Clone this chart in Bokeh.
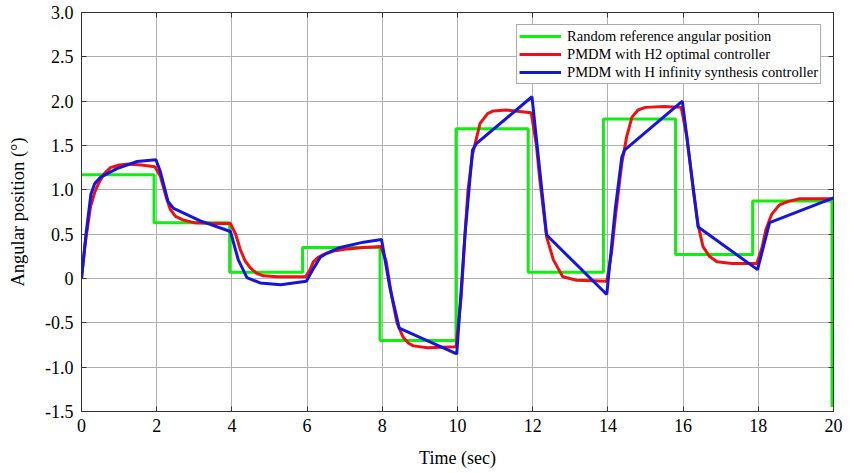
from bokeh.plotting import figure
from bokeh.models import Range1d, LinearAxis, FixedTicker, Legend, LegendItem
from bokeh.embed import file_html
from bokeh.resources import INLINE

# ---------------- data ----------------
ref_t = [0, 1.93, 3.94, 5.88, 7.94, 9.96, 11.88, 13.88, 15.80, 17.85, 19.93, 19.96]
ref_y = [1.17, 0.63, 0.07, 0.35, -0.70, 1.69, 0.07, 1.80, 0.27, 0.875, 0.875, -1.45]

h2_t = [0, 0.10, 0.24, 0.35, 0.45, 0.60, 0.77, 1.00, 1.20, 1.60, 1.95,
        2.10, 2.25, 2.36, 2.50, 2.70, 3.00, 3.50, 3.96,
        4.10, 4.22, 4.35, 4.49, 4.65, 4.84, 5.20, 5.96,
        6.08, 6.17, 6.30, 6.43, 6.70, 7.00, 7.50, 7.96,
        8.10, 8.25, 8.39, 8.55, 8.70, 8.83, 9.20, 9.96,
        10.10, 10.20, 10.28, 10.40, 10.60, 10.80, 10.95, 11.30, 11.96,
        12.10, 12.19, 12.37, 12.55, 12.80, 13.17, 13.97,
        14.10, 14.20, 14.37, 14.50, 14.64, 14.80, 15.00, 15.50, 15.95,
        16.10, 16.27, 16.40, 16.53, 16.70, 16.90, 17.30, 17.96,
        18.10, 18.20, 18.35, 18.56, 18.80, 19.10, 20.00]
h2_y = [0, 0.40, 0.81, 0.97, 1.07, 1.18, 1.25, 1.28, 1.29, 1.28, 1.26,
        1.15, 0.92, 0.78, 0.70, 0.66, 0.63, 0.62, 0.62,
        0.50, 0.33, 0.20, 0.12, 0.06, 0.03, 0.02, 0.02,
        0.10, 0.19, 0.24, 0.27, 0.31, 0.33, 0.35, 0.36,
        0.20, -0.20, -0.50, -0.66, -0.73, -0.76, -0.78, -0.77,
        -0.20, 0.50, 1.00, 1.40, 1.75, 1.86, 1.89, 1.90, 1.87,
        1.50, 1.11, 0.47, 0.21, 0.02, -0.02, -0.03,
        0.30, 0.70, 1.30, 1.60, 1.82, 1.90, 1.93, 1.94, 1.93,
        1.60, 1.00, 0.60, 0.36, 0.25, 0.19, 0.17, 0.17,
        0.35, 0.55, 0.72, 0.83, 0.87, 0.90, 0.90]

hinf_t = [0, 0.12, 0.25, 0.35, 0.50, 0.94, 1.48, 1.98,
          2.10, 2.30, 2.45, 3.16, 3.96,
          4.17, 4.40, 4.75, 5.30, 5.98,
          6.18, 6.35, 6.50, 6.88, 7.50, 7.98,
          8.20, 8.45, 9.98,
          10.20, 10.40, 10.50, 11.98,
          12.37, 13.97,
          14.20, 14.37, 14.45, 15.98,
          16.40, 17.98,
          18.30, 20.00]
hinf_y = [0, 0.50, 0.95, 1.07, 1.14, 1.24, 1.32, 1.34,
          1.20, 0.87, 0.79, 0.65, 0.53,
          0.21, 0.01, -0.05, -0.07, -0.03,
          0.12, 0.24, 0.28, 0.35, 0.41, 0.44,
          -0.10, -0.56, -0.85,
          0.50, 1.45, 1.52, 2.05,
          0.49, -0.18,
          0.80, 1.37, 1.45, 2.00,
          0.58, 0.10,
          0.63, 0.91]

x_ticks = [0, 2, 4, 6, 8, 10, 12, 14, 16, 18, 20]
y_ticks = [-1.5, -1.0, -0.5, 0, 0.5, 1.0, 1.5, 2.0, 2.5, 3.0]
y_tick_labels = ["-1.5", "-1.0", "-0.5", "0", "0.5", "1.0", "1.5", "2.0", "2.5", "3.0"]

labels = ["Random reference angular position",
          "PMDM with H2 optimal controller",
          "PMDM with H infinity synthesis controller"]

# ---------------- figure ----------------
FONT = "Liberation Serif"
W, H = 850, 470

p = figure(width=W, height=H, output_backend="svg", toolbar_location=None,
           x_range=Range1d(0, 20), y_range=Range1d(-1.5, 3.0),
           min_border_left=81, min_border_right=W - 833,
           min_border_top=12, min_border_bottom=H - 413)
p.background_fill_color = "white"
p.border_fill_color = "white"
p.outline_line_color = "#333333"
p.outline_line_width = 1

for ax in (p.xaxis, p.yaxis):
    ax.major_tick_in = 5
    ax.major_tick_out = 0
    ax.minor_tick_in = 0
    ax.minor_tick_out = 0
    ax.axis_line_color = "#333333"
    ax.major_tick_line_color = "#333333"
    ax.major_label_text_font = FONT
    ax.major_label_text_font_size = "18px"
    ax.major_label_text_color = "black"
    ax.axis_label_text_font = FONT
    ax.axis_label_text_font_style = "normal"
    ax.axis_label_text_color = "black"

p.xaxis.axis_label_text_font_size = "18px"
p.yaxis.axis_label_text_font_size = "18.5px"
p.xaxis.ticker = FixedTicker(ticks=x_ticks)
p.yaxis.ticker = FixedTicker(ticks=y_ticks)
p.yaxis.major_label_overrides = {t: s for t, s in zip(y_ticks, y_tick_labels)}
p.xaxis.axis_label = "Time (sec)"
p.yaxis.axis_label = "Angular position (°)"
p.xaxis.major_label_standoff = 7
p.xaxis.axis_label_standoff = 13
p.yaxis.major_label_standoff = 8
p.yaxis.axis_label_standoff = 14

# mirror axes (ticks only) on top and right
for side, ticks in (("right", y_ticks), ("above", x_ticks)):
    ax = LinearAxis(ticker=FixedTicker(ticks=ticks),
                    major_tick_in=5, major_tick_out=0, minor_tick_in=0, minor_tick_out=0,
                    major_label_overrides={t: "" for t in ticks}, major_label_standoff=0,
                    axis_line_color="#333333", major_tick_line_color="#333333")
    p.add_layout(ax, side)

p.xgrid.ticker = FixedTicker(ticks=x_ticks)
p.ygrid.ticker = FixedTicker(ticks=y_ticks)
for g in (p.xgrid, p.ygrid):
    g.grid_line_color = "#b0b0b0"
    g.grid_line_width = 1

r_ref = p.step(ref_t, ref_y, mode="after", line_color="#10ee10", line_width=3)
r_h2 = p.line(h2_t, h2_y, line_color="#ee1111", line_width=3)
r_hinf = p.line(hinf_t, hinf_y, line_color="#1515e0", line_width=3)

legend = Legend(items=[LegendItem(label=labels[0], renderers=[r_ref]),
                       LegendItem(label=labels[1], renderers=[r_h2]),
                       LegendItem(label=labels[2], renderers=[r_hinf])],
                location="top_right")
legend.label_text_font = FONT
legend.label_text_font_size = "14.5px"
legend.label_text_color = "black"
legend.label_height = 18
legend.glyph_height = 18
legend.glyph_width = 42
legend.label_standoff = 6
legend.spacing = 0
legend.padding = 2
legend.margin = 12
legend.border_line_color = "#555555"
legend.border_line_width = 1
legend.background_fill_alpha = 1.0
p.add_layout(legend)

open("out.html", "w").write(file_html(p, INLINE))
